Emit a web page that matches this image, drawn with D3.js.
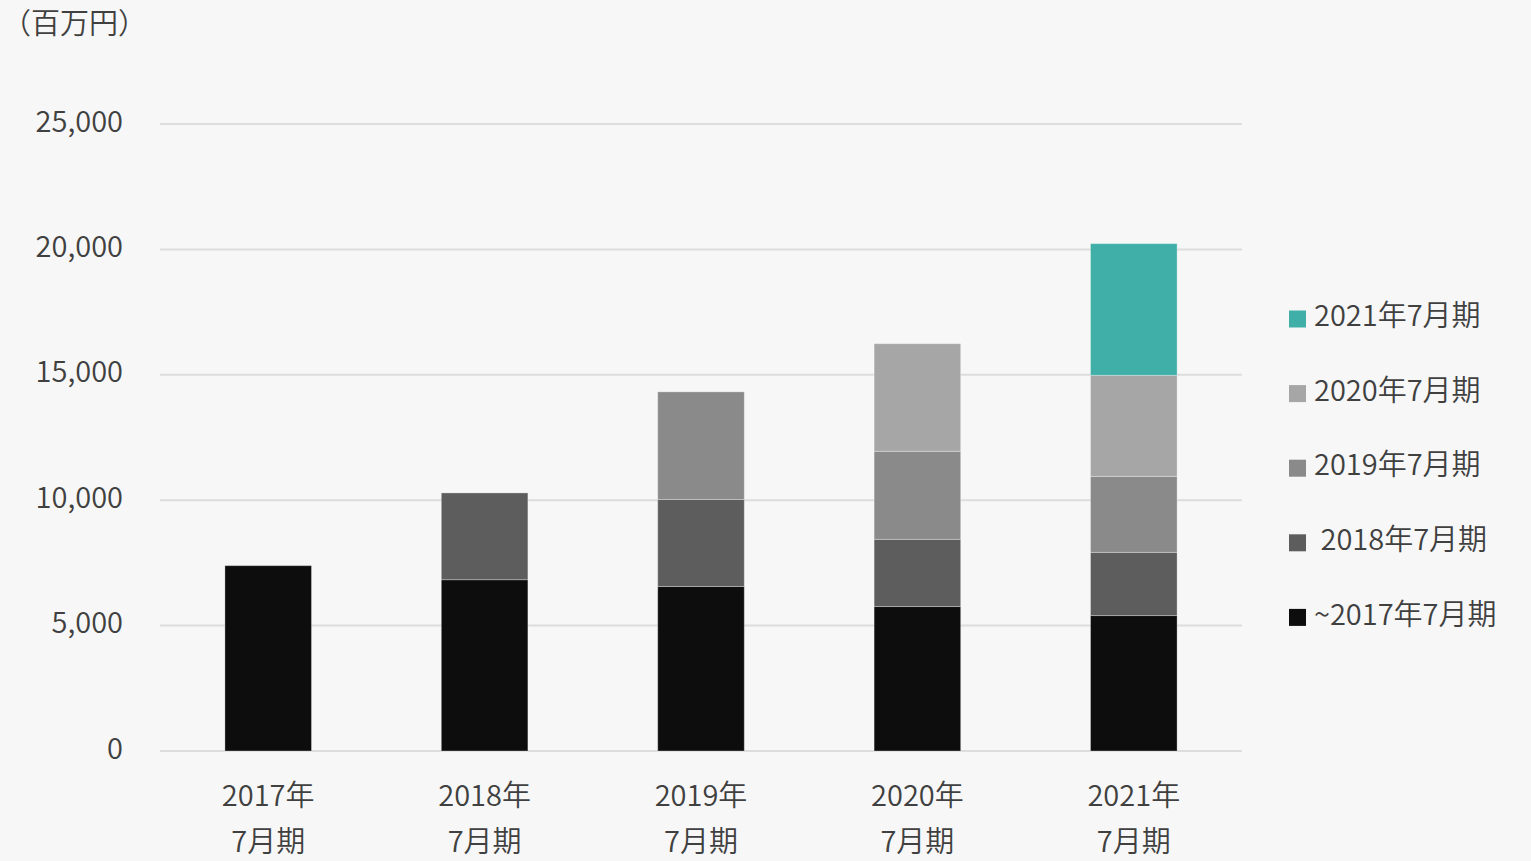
<!DOCTYPE html>
<html>
<head>
<meta charset="utf-8">
<script src="https://cdn.jsdelivr.net/npm/d3@7"></script>
<style>
  html, body { margin: 0; padding: 0; background: #f7f7f7; }
  svg text { font-family: "Noto Sans CJK JP", "Noto Sans", sans-serif; font-weight: 350; fill: #404040; }
</style>
</head>
<body>
<svg id="chart" width="1531" height="861"></svg>
<script>
// Fiscal years (x categories), two-line labels
const categories = ["2017年7月期", "2018年7月期", "2019年7月期", "2020年7月期", "2021年7月期"];
const categoryLine1 = ["2017年", "2018年", "2019年", "2020年", "2021年"];
const categoryLine2 = ["7月期", "7月期", "7月期", "7月期", "7月期"];

// Stacked series (百万円), bottom to top, by vintage
const seriesNames = ["~2017年7月期", " 2018年7月期", "2019年7月期", "2020年7月期", "2021年7月期"];
const vintage2017 = [7390, 6830, 6560, 5760, 5400];
const vintage2018 = [0, 3460, 3470, 2680, 2520];
const vintage2019 = [0, 0, 4290, 3510, 3030];
const vintage2020 = [0, 0, 0, 4290, 4030];
const vintage2021 = [0, 0, 0, 0, 5250];
const seriesColors = ["#0d0d0d", "#5d5d5d", "#8a8a8a", "#a6a6a6", "#40afa8"];

const yTicks = [0, 5000, 10000, 15000, 20000, 25000];
const unitLabel = "（百万円）";

const seriesValues = [vintage2017, vintage2018, vintage2019, vintage2020, vintage2021];
const rows = categories.map((c, i) => {
  const r = { category: c };
  seriesNames.forEach((s, j) => { r[s] = seriesValues[j][i]; });
  return r;
});

const svg = d3.select("#chart");
const margin = { left: 160, right: 289 };
const width = 1531;
const fontSize = 29;

const x = d3.scaleBand()
  .domain(categories)
  .range([margin.left, width - margin.right])
  .paddingInner(0.6)
  .paddingOuter(0.3);

const y = d3.scaleLinear()
  .domain([0, 25000])
  .range([751, 124]);

// Horizontal gridlines
svg.append("g")
  .selectAll("line")
  .data(yTicks)
  .join("line")
  .attr("x1", margin.left)
  .attr("x2", width - margin.right)
  .attr("y1", d => y(d))
  .attr("y2", d => y(d))
  .attr("stroke", "#dddddd")
  .attr("stroke-width", 2);

// Y axis labels
const yAxis = d3.axisLeft(y)
  .tickValues(yTicks)
  .tickFormat(d3.format(","))
  .tickSize(0)
  .tickPadding(0);
const yg = svg.append("g")
  .attr("transform", `translate(${123},0)`)
  .call(yAxis);
yg.select(".domain").remove();
yg.selectAll("text")
  .attr("font-size", fontSize)
  .attr("y", -3)
  .attr("dy", "0.35em");

// Stacked bars
const stack = d3.stack().keys(seriesNames);
const stacked = stack(rows);

svg.append("g")
  .selectAll("g")
  .data(stacked)
  .join("g")
  .attr("fill", (d, i) => seriesColors[i])
  .selectAll("rect")
  .data(d => d.filter(p => p[1] - p[0] > 0))
  .join("rect")
  .attr("x", d => x(d.data.category))
  .attr("width", x.bandwidth())
  .attr("y", d => y(d[1]))
  .attr("height", d => y(d[0]) - y(d[1]))
  .attr("stroke", "rgba(255,255,255,0.3)")
  .attr("stroke-width", 1);

// X axis labels (two lines)
const xl = svg.append("g");
categories.forEach((c, i) => {
  const cx = x(c) + x.bandwidth() / 2;
  xl.append("text")
    .attr("x", cx).attr("y", 796)
    .attr("dy", "0.35em")
    .attr("text-anchor", "middle")
    .attr("font-size", fontSize)
    .text(categoryLine1[i]);
  xl.append("text")
    .attr("x", cx).attr("y", 842)
    .attr("dy", "0.35em")
    .attr("text-anchor", "middle")
    .attr("font-size", fontSize)
    .text(categoryLine2[i]);
});

// Unit label
svg.append("text")
  .attr("x", 2).attr("y", 24)
  .attr("dy", "0.35em")
  .attr("font-size", fontSize)
  .text(unitLabel);

// Legend (top entry is the newest vintage)
const legendOrder = d3.range(seriesNames.length).reverse();
const legend = svg.append("g");
legendOrder.forEach((si, k) => {
  const cy = 319 + k * 74.6;
  legend.append("rect")
    .attr("x", 1289).attr("y", cy - 8.5)
    .attr("width", 17).attr("height", 17)
    .attr("fill", seriesColors[si]);
  legend.append("text")
    .attr("x", 1314).attr("y", cy - 3)
    .attr("dy", "0.35em")
    .attr("font-size", fontSize)
    .attr("xml:space", "preserve")
    .style("white-space", "pre")
    .text(seriesNames[si]);
});
</script>
</body>
</html>
